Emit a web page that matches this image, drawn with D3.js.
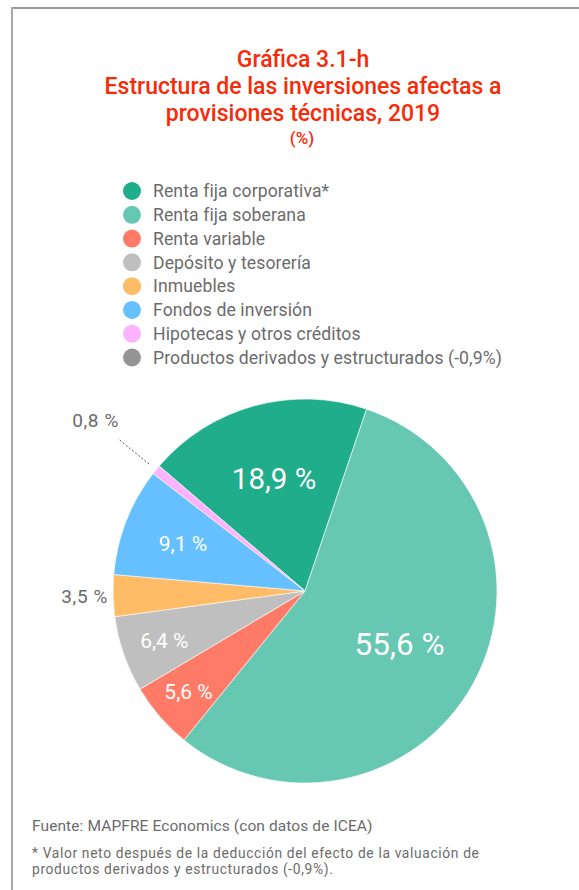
<!DOCTYPE html>
<html>
<head>
<meta charset="utf-8">
<script src="https://cdn.jsdelivr.net/npm/d3@7"></script>
<style>
  html, body { margin: 0; padding: 0; background: #fff; }
  svg { display: block; }
  text { font-family: Roboto, "Open Sans", sans-serif; }
</style>
</head>
<body>
<svg id="chart" width="579" height="890"></svg>
<script>
// Investment structure, 2019 (%)
const categories = [
  "Renta fija corporativa*",
  "Renta fija soberana",
  "Renta variable",
  "Depósito y tesorería",
  "Inmuebles",
  "Fondos de inversión",
  "Hipotecas y otros créditos"
];
const values = [18.9, 55.6, 5.6, 6.4, 3.5, 9.1, 0.8];
const colors = ["#20ad8c", "#66c8b2", "#ff7b67", "#bfbfbf", "#ffbb66", "#66bfff", "#ffb3ff"];

const legendLabels = categories.concat(["Productos derivados y estructurados (-0,9%)"]);
const legendColors = colors.concat(["#949494"]);

const titleLines = [
  "Gráfica 3.1-h",
  "Estructura de las inversiones afectas a",
  "provisiones técnicas, 2019"
];
const unitLabel = "(%)";
const sourceText = "Fuente: MAPFRE Economics (con datos de ICEA)";
const noteLines = [
  "* Valor neto después de la deducción del efecto de la valuación de",
  "productos derivados y estructurados (-0,9%)."
];

const svg = d3.select("#chart");
const red = "#f82a08";
const grey = "#6b6b6b";

// frame
svg.append("line").attr("x1", 12).attr("x2", 579).attr("y1", 8).attr("y2", 8)
  .attr("stroke", "#9a9a9a").attr("stroke-width", 2);
svg.append("line").attr("x1", 12).attr("x2", 12).attr("y1", 7).attr("y2", 890)
  .attr("stroke", "#a8a8a8").attr("stroke-width", 2);

// title
const titleY = [67, 94, 121];
titleLines.forEach((t, i) => {
  svg.append("text").attr("x", 303).attr("y", titleY[i])
    .attr("text-anchor", "middle").attr("fill", red)
    .attr("font-size", 23).attr("font-weight", 500).text(t);
});
svg.append("text").attr("x", 302).attr("y", 144)
  .attr("text-anchor", "middle").attr("fill", red)
  .attr("font-size", 17).attr("font-weight", 500).text(unitLabel);

// legend
const legY = d3.scalePoint().domain(d3.range(legendLabels.length)).range([191, 357.5]);
const leg = svg.append("g");
legendLabels.forEach((l, i) => {
  leg.append("circle").attr("cx", 132).attr("cy", legY(i)).attr("r", 9)
    .attr("fill", legendColors[i]);
  leg.append("text").attr("x", 153).attr("y", legY(i)).attr("dy", "0.36em")
    .attr("fill", grey).attr("font-size", 17.6).attr("letter-spacing", 0.1).text(l);
});

// pie
const cx = 305, cy = 591, R = 192;
const startA = -49.4 * Math.PI / 180;
const pie = d3.pie().sort(null).startAngle(startA).endAngle(startA + 2 * Math.PI);
const arcs = pie(values);
const arc = d3.arc().innerRadius(0).outerRadius(R);
const g = svg.append("g").attr("transform", `translate(${cx},${cy})`);
g.selectAll("path").data(arcs).join("path")
  .attr("d", arc)
  .attr("fill", (d, i) => colors[i])
  .attr("stroke", "#fff").attr("stroke-width", 0.6);

const fmt = v => d3.format(".1f")(v).replace(".", ",") + " %";
const polar = (a, r) => [r * Math.sin(a), -r * Math.cos(a)];
const mid = d => (d.startAngle + d.endAngle) / 2;

// inside labels: [index, radius, font size]
const inside = [[0, 117, 29.5], [1, 108, 31.5], [2, 154, 21], [3, 149, 21], [5, 131, 21]];
inside.forEach(([i, r, fs]) => {
  const [x, y] = polar(mid(arcs[i]), r);
  g.append("text").attr("x", x).attr("y", y).attr("dy", "0.36em")
    .attr("text-anchor", "middle").attr("fill", "#fff")
    .attr("font-size", fs).text(fmt(values[i]));
});

// outside label: Inmuebles
{
  const [x, y] = polar(mid(arcs[4]), 197);
  g.append("text").attr("x", x).attr("y", y).attr("dy", "0.36em")
    .attr("text-anchor", "end").attr("fill", grey)
    .attr("font-size", 19).attr("letter-spacing", 0.6).text(fmt(values[4]));
}
// outside label with leader: Hipotecas
{
  const a = mid(arcs[6]);
  const [x1, y1] = polar(a, 201);
  const [x2, y2] = polar(a, 240);
  g.append("line").attr("x1", x1).attr("y1", y1).attr("x2", x2).attr("y2", y2)
    .attr("stroke", "#555").attr("stroke-width", 1).attr("stroke-dasharray", "2,2");
  g.append("text").attr("x", x2).attr("y", y2 - 12)
    .attr("text-anchor", "end").attr("fill", grey)
    .attr("font-size", 19).attr("letter-spacing", 0.6).text(fmt(values[6]));
}

// source and note
svg.append("text").attr("x", 32).attr("y", 831).attr("fill", grey)
  .attr("font-size", 15.5).attr("letter-spacing", 0.1).text(sourceText);
noteLines.forEach((t, i) => {
  svg.append("text").attr("x", 32).attr("y", 858 + i * 16).attr("fill", grey)
    .attr("font-size", 13.8).attr("letter-spacing", 0.65).text(t);
});
</script>
</body>
</html>
